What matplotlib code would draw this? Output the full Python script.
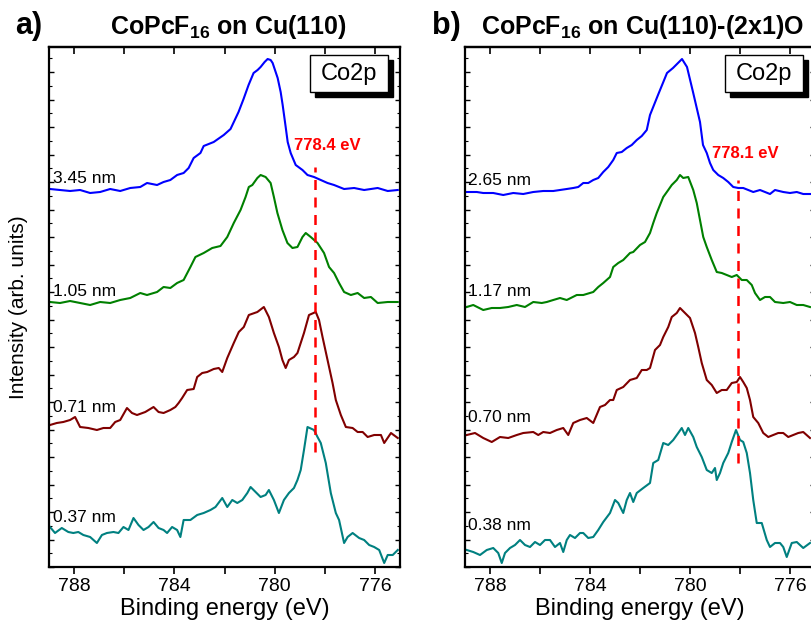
import matplotlib
matplotlib.use('Agg')
import matplotlib.pyplot as plt
from matplotlib.patches import Rectangle
from matplotlib.ticker import MultipleLocator

plt.rcParams['font.family'] = ['Liberation Sans', 'DejaVu Sans']
plt.rcParams['mathtext.fontset'] = 'custom'
plt.rcParams['mathtext.rm'] = 'Liberation Sans'
plt.rcParams['mathtext.bf'] = 'Liberation Sans:bold'

# ---- panel a: CoPcF16 on Cu(110) ----
a_blue_e = [788.96, 788.56, 788.16, 787.76, 787.36, 786.96, 786.56, 786.16, 785.76, 785.36,
            785.09, 784.69, 784.43, 784.16, 783.89, 783.63, 783.43, 783.23, 782.96, 782.83,
            782.43, 782.03, 781.76, 781.44, 781.24, 781.04, 780.84, 780.68, 780.56, 780.40,
            780.28, 780.16, 780.08, 779.96, 779.88, 779.76, 779.68, 779.56, 779.48, 779.36,
            779.16, 778.89, 778.69, 778.43, 778.16, 777.89, 777.63, 777.23, 776.83, 776.43,
            775.89, 775.49, 775.09]
a_blue = [378, 377, 376, 377, 374, 375, 378, 376, 379, 380,
          384, 382, 385, 387, 392, 394, 399, 409, 414, 421,
          425, 432, 438, 455, 468, 482, 494, 497, 500, 505,
          508, 507, 504, 495, 489, 475, 462, 440, 425, 414,
          402, 397, 392, 390, 387, 384, 382, 378, 379, 377,
          379, 376, 377]

a_green_e = [788.96, 788.56, 788.16, 787.76, 787.36, 786.96, 786.56, 786.16, 785.76, 785.36,
             785.09, 784.69, 784.43, 784.16, 783.89, 783.63, 783.36, 783.16, 782.83, 782.49,
             782.16, 781.89, 781.63, 781.36, 781.16, 781.03, 780.89, 780.69, 780.56, 780.36,
             780.16, 780.03, 779.89, 779.69, 779.49, 779.29, 779.09, 778.89, 778.76, 778.56,
             778.29, 778.03, 777.83, 777.63, 777.43, 777.23, 776.96, 776.69, 776.43, 776.16,
             775.89, 775.49, 775.09]
a_green = [265, 264, 266, 264, 262, 265, 264, 267, 269, 274,
           272, 275, 280, 279, 284, 287, 300, 310, 314, 319,
           321, 330, 344, 357, 370, 380, 382, 389, 392, 390,
           384, 370, 354, 337, 324, 319, 320, 330, 334, 330,
           324, 314, 300, 294, 284, 275, 272, 274, 269, 270,
           264, 265, 265]

a_red_e = [788.96, 788.69, 788.43, 788.16, 787.96, 787.76, 787.43, 787.09, 786.83, 786.56,
           786.36, 786.16, 785.89, 785.69, 785.49, 785.16, 784.83, 784.63, 784.43, 784.16,
           783.96, 783.83, 783.69, 783.49, 783.23, 783.09, 782.89, 782.69, 782.43, 782.23,
           782.09, 781.89, 781.63, 781.43, 781.23, 781.03, 780.69, 780.43, 780.23, 780.03,
           779.83, 779.69, 779.56, 779.43, 779.23, 779.09, 778.96, 778.83, 778.63, 778.36,
           778.23, 778.09, 777.89, 777.69, 777.56, 777.36, 777.16, 776.89, 776.69, 776.49,
           776.29, 776.03, 775.76, 775.63, 775.36, 775.09]
a_red = [142, 144, 145, 147, 150, 140, 139, 137, 139, 139,
         145, 147, 159, 154, 152, 155, 160, 155, 154, 157,
         160, 164, 169, 177, 178, 190, 194, 195, 198, 199,
         195, 209, 224, 235, 240, 252, 255, 260, 250, 234,
         220, 207, 199, 207, 210, 214, 224, 234, 252, 255,
         247, 230, 207, 184, 167, 152, 140, 139, 135, 135,
         130, 132, 132, 124, 134, 129]

a_teal_e = [788.96, 788.76, 788.49, 788.23, 788.03, 787.83, 787.63, 787.36, 787.09, 786.89,
            786.69, 786.43, 786.23, 786.03, 785.83, 785.63, 785.43, 785.23, 785.03, 784.83,
            784.63, 784.43, 784.29, 784.09, 783.89, 783.76, 783.63, 783.36, 783.09, 782.83,
            782.56, 782.36, 782.09, 781.89, 781.69, 781.49, 781.29, 781.09, 780.96, 780.76,
            780.56, 780.36, 780.23, 780.03, 779.83, 779.63, 779.43, 779.23, 779.09, 778.96,
            778.83, 778.69, 778.43, 778.29, 778.16, 777.96, 777.76, 777.56, 777.43, 777.23,
            777.09, 776.89, 776.63, 776.43, 776.23, 776.03, 775.83, 775.63, 775.49, 775.29,
            775.09]
a_teal = [40, 34, 39, 35, 34, 35, 32, 30, 24, 32,
          34, 35, 34, 40, 37, 49, 42, 37, 40, 45,
          39, 37, 34, 40, 37, 30, 47, 47, 52, 54,
          57, 60, 69, 60, 67, 64, 67, 74, 80, 75,
          70, 72, 77, 67, 54, 67, 74, 79, 87, 97,
          117, 140, 137, 130, 124, 104, 74, 54, 47, 24,
          30, 34, 29, 27, 22, 20, 17, 4, 12, 12,
          17]

# ---- panel b: CoPcF16 on Cu(110)-(2x1)O ----
b_blue_e = [788.93, 788.53, 788.27, 787.87, 787.47, 787.07, 786.67, 786.27, 785.87, 785.47,
            785.20, 784.93, 784.67, 784.47, 784.27, 784.07, 783.87, 783.67, 783.47, 783.27,
            783.07, 782.93, 782.73, 782.53, 782.33, 782.13, 781.93, 781.73, 781.60, 781.28,
            780.92, 780.68, 780.32, 780.12, 779.88, 779.60, 779.48, 779.33, 779.20, 779.07,
            778.87, 778.67, 778.47, 778.27, 778.07, 777.87, 777.67, 777.47, 777.20, 776.80,
            776.60, 776.27, 776.00, 775.73, 775.47, 775.20]
b_blue = [375, 375, 374, 374, 372, 374, 373, 375, 376, 376,
          377, 378, 379, 380, 384, 384, 387, 389, 395, 400,
          407, 414, 415, 419, 422, 427, 431, 437, 452, 472,
          494, 499, 508, 500, 475, 445, 422, 414, 404, 397,
          392, 389, 385, 380, 379, 379, 377, 375, 377, 373,
          377, 375, 374, 375, 373, 373]

b_green_e = [788.93, 788.67, 788.27, 787.93, 787.60, 787.27, 786.93, 786.60, 786.27, 785.93,
             785.73, 785.47, 785.20, 784.93, 784.53, 784.27, 783.87, 783.67, 783.47, 783.20,
             783.07, 782.87, 782.67, 782.40, 782.27, 782.00, 781.80, 781.60, 781.47, 781.33,
             781.20, 781.07, 780.87, 780.73, 780.53, 780.40, 780.27, 780.07, 779.87, 779.73,
             779.60, 779.47, 779.33, 779.13, 778.93, 778.73, 778.53, 778.33, 778.13, 777.93,
             777.73, 777.53, 777.40, 777.20, 777.00, 776.80, 776.60, 776.27, 776.00, 775.73,
             775.47, 775.20]
b_green = [260, 262, 257, 259, 259, 260, 262, 260, 265, 264,
           265, 267, 269, 267, 272, 272, 275, 280, 284, 290,
           300, 304, 307, 314, 315, 322, 325, 334, 344, 354,
           362, 370, 377, 382, 387, 392, 389, 390, 377, 364,
           347, 330, 320, 307, 295, 294, 292, 290, 292, 287,
           287, 282, 274, 267, 270, 270, 265, 264, 265, 262,
           262, 260]

b_red_e = [788.93, 788.60, 788.27, 787.93, 787.60, 787.27, 786.93, 786.67, 786.27, 786.07,
           785.87, 785.60, 785.33, 785.07, 784.87, 784.67, 784.40, 784.13, 783.87, 783.60,
           783.40, 783.20, 783.07, 782.93, 782.67, 782.40, 782.13, 781.93, 781.73, 781.60,
           781.40, 781.20, 781.07, 780.87, 780.73, 780.53, 780.40, 780.20, 780.00, 779.80,
           779.67, 779.53, 779.33, 779.13, 778.93, 778.73, 778.53, 778.33, 778.13, 778.00,
           777.87, 777.73, 777.60, 777.47, 777.27, 777.07, 776.87, 776.67, 776.47, 776.27,
           776.07, 775.87, 775.67, 775.47, 775.20]
b_red = [132, 134, 129, 125, 130, 129, 132, 134, 135, 132,
         135, 134, 137, 139, 132, 144, 147, 149, 144, 160,
         162, 167, 167, 177, 180, 187, 189, 197, 197, 199,
         217, 222, 230, 240, 250, 254, 259, 254, 249, 234,
         220, 204, 187, 182, 174, 177, 177, 184, 185, 190,
         185, 179, 167, 150, 144, 134, 130, 132, 134, 134,
         130, 132, 134, 135, 129]

b_teal_e = [788.93, 788.67, 788.40, 788.13, 787.87, 787.67, 787.53, 787.40, 787.20, 787.00,
            786.80, 786.60, 786.40, 786.20, 786.00, 785.80, 785.60, 785.40, 785.20, 785.07,
            784.93, 784.80, 784.60, 784.40, 784.27, 784.07, 783.87, 783.67, 783.47, 783.20,
            783.00, 782.87, 782.67, 782.53, 782.40, 782.27, 782.13, 781.87, 781.60, 781.47,
            781.27, 781.07, 780.87, 780.67, 780.47, 780.33, 780.20, 780.07, 779.87, 779.73,
            779.53, 779.33, 779.13, 779.00, 778.93, 778.80, 778.67, 778.47, 778.33, 778.16,
            778.00, 777.87, 777.73, 777.60, 777.47, 777.33, 777.13, 776.93, 776.80, 776.60,
            776.40, 776.27, 776.13, 775.93, 775.73, 775.47, 775.20]
b_teal = [17, 15, 12, 17, 19, 14, 4, 14, 19, 22,
          27, 22, 20, 25, 22, 27, 27, 20, 24, 15,
          27, 32, 29, 34, 34, 29, 30, 37, 45, 54,
          67, 64, 54, 67, 74, 65, 74, 79, 84, 104,
          107, 124, 122, 127, 134, 139, 132, 139, 130, 120,
          110, 97, 94, 99, 87, 94, 104, 114, 125, 137,
          127, 125, 114, 94, 67, 44, 44, 27, 20, 24,
          24, 20, 10, 24, 25, 19, 24]

a_labels = ['3.45 nm', '1.05 nm', '0.71 nm', '0.37 nm']
a_label_y = [389, 276, 159, 49]
b_labels = ['2.65 nm', '1.17 nm', '0.70 nm', '0.38 nm']
b_label_y = [387, 276, 149, 42]

colors = ['#0000ff', '#008000', '#800000', '#008080']

fig = plt.figure(figsize=(8.11, 6.26), dpi=100)
W, H = 811, 626


def make_axes(x0, x1):
    return fig.add_axes([x0 / W, 1 - 567 / H, (x1 - x0) / W, 520 / H])


def style(ax):
    ax.set_xlim(789, 775)
    ax.set_ylim(0, 520)
    ax.xaxis.set_major_locator(MultipleLocator(4))
    ax.xaxis.set_minor_locator(MultipleLocator(2))
    ax.yaxis.set_major_locator(MultipleLocator(27.5))
    ax.yaxis.set_minor_locator(MultipleLocator(13.75))
    ax.tick_params(axis='x', which='both', direction='out', length=5, width=1.2,
                   labelsize=14, pad=3)
    ax.tick_params(axis='y', which='major', direction='in', length=3.5, width=1.0,
                   left=True, right=True, labelleft=False)
    ax.tick_params(axis='y', which='minor', direction='in', length=2, width=0.8,
                   left=True, right=True)
    for s in ax.spines.values():
        s.set_linewidth(1.6)
    top = ax.secondary_xaxis('top')
    top.xaxis.set_major_locator(MultipleLocator(2))
    top.tick_params(direction='in', length=5, width=1.2, labeltop=False)
    top.spines['top'].set_linewidth(1.6)
    ax.set_xlabel('Binding energy (eV)', fontsize=17, labelpad=2)


def co2p(ax):
    off_x, off_y = 5 / 351, 5 / 520
    ax.add_patch(Rectangle((0.744 + off_x, 0.913 - off_y), 0.222, 0.072,
                           transform=ax.transAxes, facecolor='black',
                           edgecolor='black', zorder=5, clip_on=False))
    ax.add_patch(Rectangle((0.744, 0.913), 0.222, 0.072, transform=ax.transAxes,
                           facecolor='white', edgecolor='black', lw=1.0, zorder=6,
                           clip_on=False))
    ax.text(0.855, 0.949, 'Co2p', transform=ax.transAxes, ha='center', va='center',
            fontsize=17, zorder=7)


# panel a
ax1 = make_axes(49, 400)
series_a = [(a_blue_e, a_blue), (a_green_e, a_green), (a_red_e, a_red), (a_teal_e, a_teal)]
for (e, v), c in zip(series_a, colors):
    ax1.plot(e, v, color=c, lw=1.5)
for t, y in zip(a_labels, a_label_y):
    ax1.text(788.84, y, t, fontsize=12.5, ha='left', va='center')
ax1.plot([778.4, 778.4], [115, 400], color='#ff0000', lw=1.8, ls=(0, (4, 3)))
ax1.text(779.24, 422, '778.4 eV', color='#ff0000', fontsize=12, fontweight='bold',
         ha='left', va='center')
style(ax1)
co2p(ax1)
ax1.set_ylabel('Intensity (arb. units)', fontsize=15, labelpad=12)
fig.text(228 / W, 1 - 34 / H, r'CoPcF$_{\mathbf{16}}$ on Cu(110)', fontsize=18,
         fontweight='bold', ha='center', va='baseline')
fig.text(15 / W, 1 - 26 / H, 'a)', fontsize=22, fontweight='bold', ha='left', va='center')

# panel b (runs past the right edge of the figure)
ax2 = make_axes(465, 815)
series_b = [(b_blue_e, b_blue), (b_green_e, b_green), (b_red_e, b_red), (b_teal_e, b_teal)]
for (e, v), c in zip(series_b, colors):
    ax2.plot(e, v, color=c, lw=1.5)
for t, y in zip(b_labels, b_label_y):
    ax2.text(788.88, y, t, fontsize=12.5, ha='left', va='center')
ax2.plot([778.1, 778.1], [104, 387], color='#ff0000', lw=1.8, ls=(0, (4, 3)))
ax2.text(779.12, 414, '778.1 eV', color='#ff0000', fontsize=12, fontweight='bold',
         ha='left', va='center')
style(ax2)
co2p(ax2)
fig.text(642 / W, 1 - 34 / H, r'CoPcF$_{\mathbf{16}}$ on Cu(110)-(2x1)O', fontsize=18,
         fontweight='bold', ha='center', va='baseline')
fig.text(432 / W, 1 - 26 / H, 'b)', fontsize=22, fontweight='bold', ha='left', va='center')

fig.savefig('out.png', dpi=100)
